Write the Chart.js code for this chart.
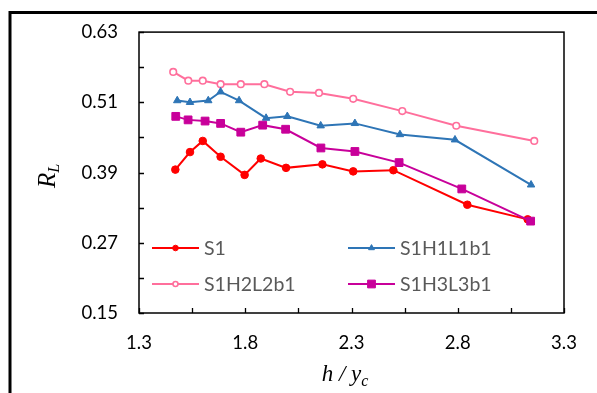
<!DOCTYPE html>
<html><head><meta charset="utf-8">
<script src="https://cdn.jsdelivr.net/npm/chart.js@4.4.1/dist/chart.umd.min.js"></script>
<style>html,body{margin:0;padding:0;background:#fff;}#wrap{width:597px;height:393px;position:relative;}</style>
</head><body><div id="wrap"><canvas id="c" width="597" height="393"></canvas></div>
<script>
// ---- data ----
const seriesNames = ['S1', 'S1H1L1b1', 'S1H2L2b1', 'S1H3L3b1'];
const s1X = [1.471, 1.540, 1.600, 1.684, 1.797, 1.873, 1.992, 2.163, 2.308, 2.497, 2.845, 3.129];
const s1Y = [0.395, 0.425, 0.444, 0.417, 0.386, 0.414, 0.398, 0.404, 0.392, 0.394, 0.335, 0.310];
const s1h1X = [1.480, 1.540, 1.626, 1.684, 1.771, 1.898, 1.998, 2.155, 2.316, 2.528, 2.787, 3.145];
const s1h1Y = [0.513, 0.510, 0.513, 0.528, 0.513, 0.483, 0.486, 0.470, 0.474, 0.455, 0.446, 0.369];
const s1h2X = [1.461, 1.532, 1.600, 1.684, 1.779, 1.890, 2.011, 2.147, 2.308, 2.539, 2.793, 3.160];
const s1h2Y = [0.562, 0.547, 0.547, 0.541, 0.541, 0.541, 0.528, 0.526, 0.516, 0.495, 0.470, 0.444];
const s1h3X = [1.473, 1.531, 1.611, 1.684, 1.779, 1.882, 1.990, 2.156, 2.316, 2.524, 2.819, 3.143];
const s1h3Y = [0.486, 0.480, 0.478, 0.474, 0.459, 0.471, 0.464, 0.432, 0.426, 0.407, 0.362, 0.307];
const xTicks = [1.3, 1.8, 2.3, 2.8, 3.3];
const xTickLabels = ['1.3', '1.8', '2.3', '2.8', '3.3'];
const xMinorTicks = [1.55, 2.05, 2.55, 3.05];
const yTicks = [0.15, 0.27, 0.39, 0.51, 0.63];
const yTickLabels = ['0.15', '0.27', '0.39', '0.51', '0.63'];
const yMinorTicks = [0.21, 0.33, 0.45, 0.57];

const pts = (xs, ys) => xs.map((x, i) => ({x: x, y: ys[i]}));

const FONT = 'Lato, "Open Sans", sans-serif';
const SERIF = '"Liberation Serif", "DejaVu Serif", serif';

const styles = [
  {color: '#FF0000', pointStyle: 'circle', radius: 3.8, fill: '#FF0000', bw: 1, lr: 2.8, lfill: '#FF0000'},
  {color: '#2E75B6', pointStyle: 'triangle', radius: 4.3, fill: '#2E75B6', bw: 1, lr: 3.4, lfill: '#2E75B6'},
  {color: '#FF6F9C', pointStyle: 'circle', radius: 3.3, fill: '#FFFFFF', bw: 1.6, lr: 2.5, lfill: '#FFFFFF'},
  {color: '#C8009A', pointStyle: 'rect', radius: 5.5, fill: '#C8009A', bw: 1, lr: 5.5, lfill: '#C8009A'}
];
const dataSets = [pts(s1X, s1Y), pts(s1h1X, s1h1Y), pts(s1h2X, s1h2Y), pts(s1h3X, s1h3Y)];

const datasets = dataSets.map((d, i) => ({
  label: seriesNames[i],
  data: d,
  borderColor: styles[i].color,
  backgroundColor: styles[i].fill,
  borderWidth: 2,
  pointStyle: styles[i].pointStyle,
  pointRadius: styles[i].radius,
  pointHoverRadius: styles[i].radius,
  pointBorderColor: styles[i].color,
  pointBackgroundColor: styles[i].fill,
  pointBorderWidth: styles[i].bw,
  tension: 0,
  fill: false
}));
datasets[0].order = 1; datasets[1].order = 2; datasets[2].order = 3; datasets[3].order = 0;

function drawPt(ctx, style, r, x, y, fill, stroke, bw) {
  ctx.save();
  ctx.fillStyle = fill; ctx.strokeStyle = stroke; ctx.lineWidth = bw;
  if (Chart.helpers && Chart.helpers.drawPoint) {
    Chart.helpers.drawPoint(ctx, {pointStyle: style, rotation: 0, radius: r, borderWidth: bw}, x, y);
  } else {
    ctx.beginPath(); ctx.arc(x, y, r, 0, Math.PI * 2); ctx.fill(); ctx.stroke();
  }
  ctx.restore();
}

const decor = {
  id: 'decor',
  beforeDraw(chart) {
    const ctx = chart.ctx;
    ctx.save();
    ctx.fillStyle = '#fff';
    ctx.fillRect(0, 0, chart.width, chart.height);
    ctx.strokeStyle = '#000';
    ctx.lineWidth = 3;
    ctx.beginPath();
    ctx.moveTo(10, 393); ctx.lineTo(10, 12.5); ctx.lineTo(597, 12.5);
    ctx.stroke();
    ctx.restore();
  },
  afterDraw(chart) {
    const ctx = chart.ctx;
    const a = chart.chartArea;
    const xs = chart.scales.x, ys = chart.scales.y;
    ctx.save();
    ctx.strokeStyle = '#000';
    ctx.lineWidth = 1.5;
    ctx.strokeRect(a.left, a.top, a.right - a.left, a.bottom - a.top);
    ctx.lineWidth = 1.3;
    ctx.beginPath();
    xTicks.concat(xMinorTicks).forEach(v => {
      const px = Math.round(xs.getPixelForValue(v)) + 0.5;
      ctx.moveTo(px, a.bottom); ctx.lineTo(px, a.bottom - 5);
    });
    yTicks.concat(yMinorTicks).forEach(v => {
      const py = Math.round(ys.getPixelForValue(v)) + 0.5;
      ctx.moveTo(a.left, py); ctx.lineTo(a.left + 5, py);
    });
    ctx.stroke();

    // y axis title R_L (rotated)
    ctx.fillStyle = '#000';
    ctx.save();
    ctx.translate(47, 176);
    ctx.rotate(-Math.PI / 2);
    ctx.textBaseline = 'alphabetic';
    ctx.font = 'italic 25px ' + SERIF;
    const wR = ctx.measureText('R').width;
    ctx.font = 'italic 16px ' + SERIF;
    const wL = ctx.measureText('L').width;
    const start = -(wR + wL) / 2;
    ctx.font = 'italic 25px ' + SERIF;
    ctx.fillText('R', start, 8);
    ctx.font = 'italic 16px ' + SERIF;
    ctx.fillText('L', start + wR, 12);
    ctx.restore();

    // x axis title h / y_c
    ctx.save();
    ctx.textBaseline = 'alphabetic';
    ctx.font = 'italic 23px ' + SERIF;
    const main = 'h / y';
    const wm = ctx.measureText(main).width;
    ctx.font = 'italic 16px ' + SERIF;
    const wc = ctx.measureText('c').width;
    const sx = 345 - (wm + wc) / 2;
    ctx.font = 'italic 23px ' + SERIF;
    ctx.fillText(main, sx, 381);
    ctx.font = 'italic 16px ' + SERIF;
    ctx.fillText('c', sx + wm, 386);
    ctx.restore();

    // legend inside plot
    const legPos = [
      {lx: 152, y: 248},
      {lx: 348, y: 248},
      {lx: 152, y: 284},
      {lx: 348, y: 284}
    ];
    ctx.font = '19.5px ' + FONT;
    ctx.textBaseline = 'middle';
    legPos.forEach((p, i) => {
      const st = styles[i];
      ctx.strokeStyle = st.color;
      ctx.lineWidth = 2;
      ctx.beginPath();
      ctx.moveTo(p.lx, p.y); ctx.lineTo(p.lx + 47, p.y);
      ctx.stroke();
      drawPt(ctx, st.pointStyle, st.lr, p.lx + 23.5, p.y, st.lfill, st.color, st.bw);
      ctx.fillStyle = '#595959';
      ctx.fillText(seriesNames[i], p.lx + 52, p.y + 1);
    });
    ctx.restore();
  }
};

new Chart(document.getElementById('c'), {
  type: 'line',
  data: {datasets: datasets},
  options: {
    responsive: false,
    animation: false,
    devicePixelRatio: 1,
    layout: {padding: {left: 0, top: 28, right: 33, bottom: 0}},
    plugins: {legend: {display: false}, tooltip: {enabled: false}},
    scales: {
      x: {
        type: 'linear', min: 1.3, max: 3.3,
        afterBuildTicks: s => { s.ticks = xTicks.map(v => ({value: v})); },
        afterFit: s => { s.height = 80; },
        ticks: {callback: (v, i) => xTickLabels[i], font: {family: FONT, size: 18.5}, color: '#000', padding: 19, maxRotation: 0, autoSkip: false},
        grid: {display: false, drawTicks: false},
        border: {display: false}
      },
      y: {
        type: 'linear', min: 0.15, max: 0.63,
        afterBuildTicks: s => { s.ticks = yTicks.map(v => ({value: v})); },
        afterFit: s => { s.width = 139; },
        ticks: {callback: (v, i) => yTickLabels[i], font: {family: FONT, size: 18.5}, color: '#000', padding: 21, autoSkip: false},
        grid: {display: false, drawTicks: false},
        border: {display: false}
      }
    }
  },
  plugins: [decor]
});
</script></body></html>
